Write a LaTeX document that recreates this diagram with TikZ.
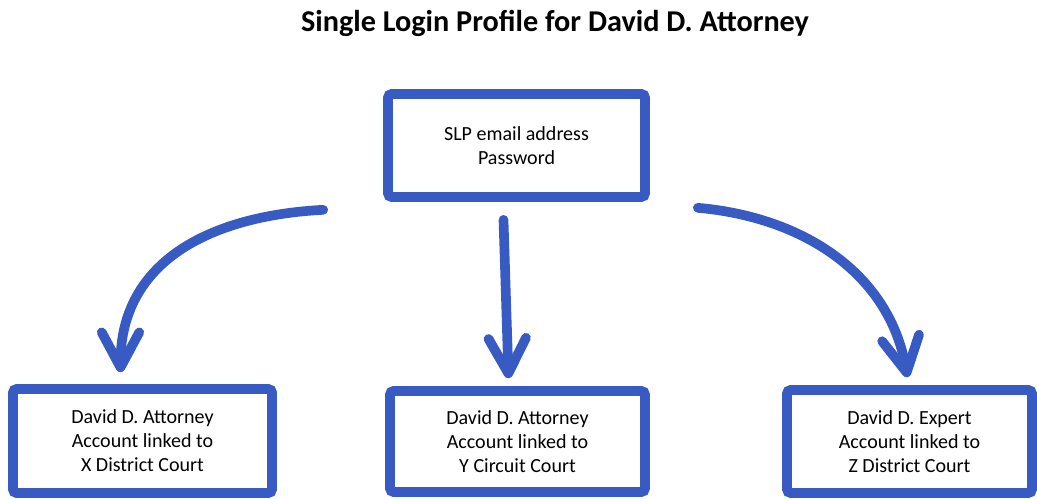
\documentclass[tikz,border=0pt]{standalone}
\usepackage{fontspec}
\setmainfont{Carlito}
\usetikzlibrary{calc, positioning, arrows.meta}
\definecolor{penblue}{RGB}{55,90,195}
\tikzset{
    acct/.style={draw=penblue, line width=5.5pt, rectangle, rounded corners=2pt, fill=white,
                 align=center, font=\fontsize{11.4}{13.6}\selectfont, minimum height=2.06cm},
    flow/.style={draw=penblue, line width=5.5pt, line cap=round,
                 -{Straight Barb[length=0.7cm, width=0.75cm, round]}}
}

\begin{document}
\begin{tikzpicture}[x=0.02cm, y=0.02cm]
                    \useasboundingbox (0,0) rectangle (1037,499);

                    \node (title) at (555,476) {\fontsize{17.2}{20}\selectfont\bfseries Single Login Profile for David D. Attorney};

                    \node[acct, minimum width=5.14cm] (slp) at (516.5,353.5) {SLP email address\\Password};

                    \node[acct, minimum width=5.18cm, minimum height=2.08cm] (xacct) at (142.5,58) {David D. Attorney\\Account linked to\\X District Court};
                    \node[acct, minimum width=5.1cm, minimum height=2.02cm] (yacct) at (517.5,57.5) {David D. Attorney\\Account linked to\\Y Circuit Court};
                    \node[acct, minimum width=4.9cm] (zacct) at (909.5,57.5) {David D. Expert\\Account linked to\\Z District Court};

                    \draw[flow] ($(slp.south west)+(-60,-8)$) to[out=183, in=90, looseness=1.1] ($(xacct.north)+(-22,12)$);
                    \draw[flow] ($(slp.south)+(-13,-18)$) -- ($(yacct.north)+(-9,8)$);
                    \draw[flow] ($(slp.south east)+(48,-6)$) to[out=-5, in=100] ($(zacct.north)+(-2,8)$);
                \end{tikzpicture}
\end{document}
